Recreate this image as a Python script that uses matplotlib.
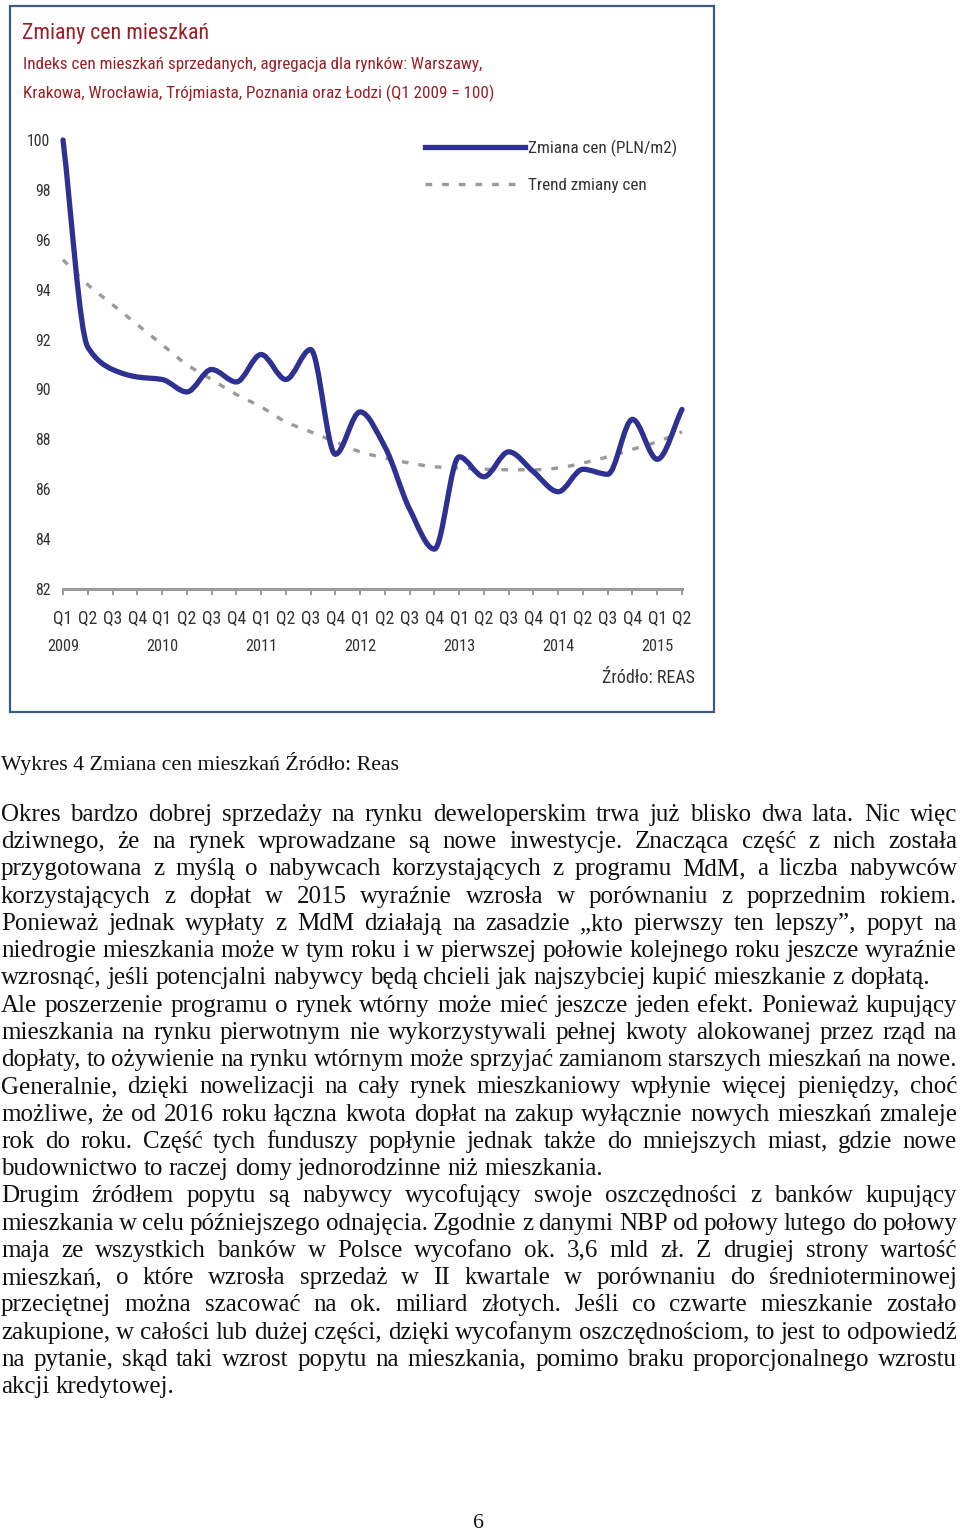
import matplotlib
matplotlib.use("Agg")
import matplotlib.pyplot as plt
from matplotlib.patches import Rectangle, PathPatch
from matplotlib.path import Path
from matplotlib.lines import Line2D

# rozmiar strony w pikselach
W, H = 960, 1532

# dane wykresu (indeks cen, Q1 2009 = 100)
quarters = ["Q1", "Q2", "Q3", "Q4"] * 6 + ["Q1", "Q2"]
years = ["2009", "2010", "2011", "2012", "2013", "2014", "2015"]
price_index = [100.0, 91.7, 90.8, 90.5, 90.4, 89.9, 90.8, 90.3, 91.4, 90.4,
               91.6, 87.4, 89.1, 87.7, 85.2, 83.6, 87.3, 86.5, 87.5, 86.7,
               85.9, 86.8, 86.6, 88.8, 87.2, 89.2]
trend = [95.2, 94.2, 93.4, 92.6, 91.8, 91.0, 90.4, 89.8, 89.3, 88.7,
         88.3, 87.9, 87.5, 87.25, 87.05, 86.9, 86.85, 86.8, 86.78, 86.78,
         86.85, 87.05, 87.3, 87.6, 87.9, 88.3]
y_ticks = [82, 84, 86, 88, 90, 92, 94, 96, 98, 100]

chart_title = "Zmiany cen mieszkań"
chart_subtitle = ["Indeks cen mieszkań sprzedanych, agregacja dla rynków: Warszawy,",
                  "Krakowa, Wrocławia, Trójmiasta, Poznania oraz Łodzi (Q1 2009 = 100)"]
legend_labels = ["Zmiana cen (PLN/m2)", "Trend zmiany cen"]
source = "Źródło: REAS"

caption = "Wykres 4 Zmiana cen mieszkań Źródło: Reas"
# (linia, czy wyjustowana)
body = [
    ("Okres bardzo dobrej sprzedaży na rynku deweloperskim trwa już blisko dwa lata. Nic więc", True),
    ("dziwnego, że na rynek wprowadzane są nowe inwestycje. Znacząca część z nich została", True),
    ("przygotowana z myślą o nabywcach korzystających z programu MdM, a liczba nabywców", True),
    ("korzystających z dopłat w 2015 wyraźnie wzrosła w porównaniu z poprzednim rokiem.", True),
    ("Ponieważ jednak wypłaty z MdM działają na zasadzie „kto pierwszy ten lepszy”, popyt na", True),
    ("niedrogie mieszkania może w tym roku i w pierwszej połowie kolejnego roku jeszcze wyraźnie", True),
    ("wzrosnąć, jeśli potencjalni nabywcy będą chcieli jak najszybciej kupić mieszkanie z dopłatą.", False),
    ("Ale poszerzenie programu o rynek wtórny może mieć jeszcze jeden efekt. Ponieważ kupujący", True),
    ("mieszkania na rynku pierwotnym nie wykorzystywali pełnej kwoty alokowanej przez rząd na", True),
    ("dopłaty, to ożywienie na rynku wtórnym może sprzyjać zamianom starszych mieszkań na nowe.", True),
    ("Generalnie, dzięki nowelizacji na cały rynek mieszkaniowy wpłynie więcej pieniędzy, choć", True),
    ("możliwe, że od 2016 roku łączna kwota dopłat na zakup wyłącznie nowych mieszkań zmaleje", True),
    ("rok do roku. Część tych funduszy popłynie jednak także do mniejszych miast, gdzie nowe", True),
    ("budownictwo to raczej domy jednorodzinne niż mieszkania.", False),
    ("Drugim źródłem popytu są nabywcy wycofujący swoje oszczędności z banków kupujący", True),
    ("mieszkania w celu późniejszego odnajęcia. Zgodnie z danymi NBP od połowy lutego do połowy", True),
    ("maja ze wszystkich banków w Polsce wycofano ok. 3,6 mld zł. Z drugiej strony wartość", True),
    ("mieszkań, o które wzrosła sprzedaż w II kwartale w porównaniu do średnioterminowej", True),
    ("przeciętnej można szacować na ok. miliard złotych. Jeśli co czwarte mieszkanie zostało", True),
    ("zakupione, w całości lub dużej części, dzięki wycofanym oszczędnościom, to jest to odpowiedź", True),
    ("na pytanie, skąd taki wzrost popytu na mieszkania, pomimo braku proporcjonalnego wzrostu", True),
    ("akcji kredytowej.", False),
]
page_number = "6"

SANS = ["Roboto Condensed", "Liberation Sans Narrow", "Roboto", "DejaVu Sans"]
SERIF = ["Liberation Serif", "DejaVu Serif"]
RED = "#9b2026"
BLUE = "#2e3192"
GREY = "#9a9a9a"
LABEL = "#333333"
DASH = (0, (2.0, 3.0))


def fx(px):
    return px / W


def fy(py):
    return 1 - py / H


def text_width(fig, renderer, s, size, family):
    t = fig.text(0, 0, s, fontsize=size, family=family)
    w = t.get_window_extent(renderer).width
    t.remove()
    return w


def fit(fig, renderer, s, target, family=SANS):
    # rozmiar czcionki, przy którym napis ma zadaną szerokość
    return 10 * target / text_width(fig, renderer, s, 10, family)


def smooth_path(xs, ys):
    # wygładzona linia przez punkty danych (monotoniczne krzywe Beziera)
    n = len(xs)
    d = [(ys[i + 1] - ys[i]) / (xs[i + 1] - xs[i]) for i in range(n - 1)]
    m = [d[0]]
    for i in range(1, n - 1):
        if d[i - 1] * d[i] <= 0:
            m.append(0.0)
        else:
            m.append(2 / (1 / d[i - 1] + 1 / d[i]))
    m.append(d[-1])
    verts = [(xs[0], ys[0])]
    codes = [Path.MOVETO]
    for i in range(n - 1):
        h = (xs[i + 1] - xs[i]) / 3
        verts += [(xs[i] + h, ys[i] + m[i] * h),
                  (xs[i + 1] - h, ys[i + 1] - m[i + 1] * h),
                  (xs[i + 1], ys[i + 1])]
        codes += [Path.CURVE4] * 3
    return Path(verts, codes)


def draw_body(fig, renderer, size):
    space = (text_width(fig, renderer, "x x", size, SERIF)
             - text_width(fig, renderer, "xx", size, SERIF))
    for k, (line, justify) in enumerate(body):
        words = line.split()
        base = 821 + k * 27.24
        texts = [fig.text(0, fy(base), w, fontsize=size, family=SERIF,
                          color="#111111", va="baseline") for w in words]
        widths = [t.get_window_extent(renderer).width for t in texts]
        gap = space
        if justify and len(words) > 1:
            gap = (957 - 1 - sum(widths)) / (len(words) - 1)
        x = 1
        for t, w in zip(texts, widths):
            t.set_x(fx(x))
            x += w + gap


def makeFig():
    fig = plt.figure(figsize=(W / 100, H / 100), dpi=100)
    renderer = fig.canvas.get_renderer()

    title_size = fit(fig, renderer, chart_title, 186)
    sub_size = fit(fig, renderer, chart_subtitle[0], 458)
    leg_size = fit(fig, renderer, legend_labels[0], 149)
    src_size = fit(fig, renderer, source, 93)
    year_size = fit(fig, renderer, "2009", 32)
    q_size = fit(fig, renderer, "Q1", 19)
    y_size = fit(fig, renderer, "100", 23)

    # ramka wykresu
    fig.add_artist(Rectangle((fx(10), fy(712)), fx(704), 706 / H,
                             transform=fig.transFigure, fill=False,
                             edgecolor="#3d5a87", linewidth=1.6))

    fig.text(fx(22), fy(34), chart_title, fontsize=title_size, family=SANS,
             color=RED, va="center")
    for n, line in enumerate(chart_subtitle):
        fig.text(fx(23), fy(65 + 28 * n), line, fontsize=sub_size, family=SANS,
                 color=RED, va="center")

    ax = fig.add_axes([fx(63), fy(589), fx(619), 449 / H])
    x = list(range(len(price_index)))
    ax.add_patch(PathPatch(smooth_path(x, trend), fill=False, edgecolor=GREY,
                           linewidth=2.4, linestyle=DASH, clip_on=False,
                           zorder=2))
    ax.add_patch(PathPatch(smooth_path(x, price_index), fill=False,
                           edgecolor=BLUE, linewidth=3.8, joinstyle="round",
                           capstyle="round", clip_on=False, zorder=3))

    ax.set_xlim(0, len(x) - 1)
    ax.set_ylim(82, 100)
    ax.set_yticks(y_ticks)
    ax.set_yticklabels([str(v) for v in y_ticks], family=SANS,
                       fontsize=y_size, color=LABEL)
    ax.set_xticks(x)
    ax.set_xticklabels(quarters, family=SANS, fontsize=q_size, color=LABEL)
    ax.tick_params(axis="y", length=0, pad=9)
    ax.tick_params(axis="x", length=4, width=1.4, color="#9a9a9a", pad=11)
    for s in ["top", "right", "left"]:
        ax.spines[s].set_visible(False)
    ax.spines["bottom"].set_color("#9a9a9a")
    ax.spines["bottom"].set_linewidth(2.2)
    ax.patch.set_alpha(0)

    # lata pod Q1
    sec = ax.secondary_xaxis("bottom")
    sec.set_xticks(list(range(0, len(x), 4)))
    sec.set_xticklabels(years, family=SANS, fontsize=year_size, color=LABEL)
    sec.tick_params(length=0, pad=36)
    sec.spines["bottom"].set_visible(False)

    handles = [Line2D([], [], color=BLUE, linewidth=3.8),
               Line2D([], [], color=GREY, linewidth=2.4, linestyle=DASH)]
    em = leg_size * 100 / 72
    fig.legend(handles, legend_labels, loc="upper left",
               bbox_to_anchor=(fx(425), fy(140)), bbox_transform=fig.transFigure,
               frameon=False, borderpad=0, borderaxespad=0,
               handlelength=100 / em, handletextpad=0.15,
               labelspacing=40 / em - 1.15,
               prop={"family": SANS, "size": leg_size}, labelcolor=LABEL)

    fig.text(fx(695), fy(678), source, fontsize=src_size, family=SANS,
             color=LABEL, ha="right", va="center")

    # tekst dokumentu
    size = fit(fig, renderer, body[6][0], 930, SERIF)
    cap_size = fit(fig, renderer, caption, 400, SERIF)
    fig.text(fx(1), fy(770), caption, fontsize=cap_size, family=SERIF,
             color="#111111", va="baseline")
    draw_body(fig, renderer, size)
    fig.text(fx(478), fy(1528), page_number, fontsize=cap_size, family=SERIF,
             color="#111111", ha="center", va="baseline")

    fig.savefig("out.png", dpi=100)


if __name__ == '__main__':
    makeFig()
